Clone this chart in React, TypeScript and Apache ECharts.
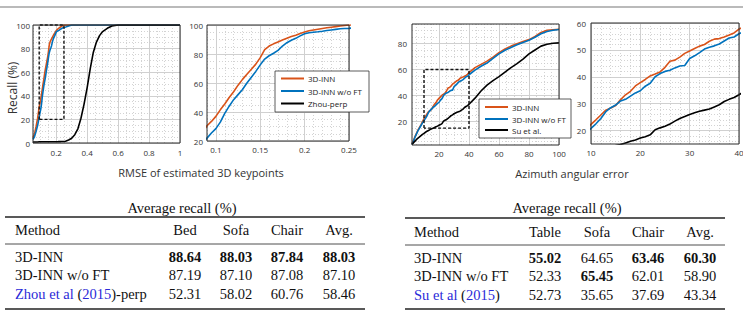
import React, { useEffect, useRef } from 'react';
import * as echarts from 'echarts';

// ---------- RMSE recall curves (left pair of plots) ----------
const rmseX = [0.05, 0.06, 0.07, 0.08, 0.09, 0.095, 0.1, 0.105, 0.11, 0.115, 0.12, 0.125, 0.13, 0.135, 0.14, 0.145, 0.15, 0.155, 0.16, 0.165, 0.17, 0.175, 0.18, 0.185, 0.19, 0.195, 0.2, 0.205, 0.21, 0.215, 0.22, 0.225, 0.23, 0.235, 0.24, 0.245, 0.25, 0.26, 0.28, 0.3, 0.32, 0.34, 0.36, 0.38, 0.4, 0.42, 0.44, 0.46, 0.48, 0.5, 0.53, 0.56, 0.6, 0.7, 0.8, 0.9, 1.0];
const inn3dRmse = [4.5, 8, 14, 21, 30.5, 33.5, 37, 41.5, 45.5, 50, 54, 58.5, 62.5, 66, 69.5, 73, 77.5, 83, 85.5, 87, 88.3, 89.6, 90.8, 92, 93, 94.2, 95.2, 96, 96.6, 97.1, 97.6, 98.1, 98.5, 98.9, 99.3, 99.7, 100, 100, 100, 100, 100, 100, 100, 100, 100, 100, 100, 100, 100, 100, 100, 100, 100, 100, 100, 100, 100];
const innNoFtRmse = [3, 5.5, 10, 15, 22, 25.5, 28.5, 33, 39, 44, 48.5, 52, 55.5, 60, 64, 68, 72.5, 76.5, 78.8, 80.5, 82.5, 85.5, 87.8, 89.5, 90.8, 92.5, 94, 94.7, 95, 95.3, 95.7, 96.2, 96.6, 97, 97.4, 97.6, 97.7, 98.2, 99.2, 100, 100, 100, 100, 100, 100, 100, 100, 100, 100, 100, 100, 100, 100, 100, 100, 100, 100];
const zhouPerpRmse = [0.8, 0.8, 0.9, 0.9, 1, 1, 1, 1, 1, 1, 1, 1, 1, 1, 1, 1, 1, 1, 1, 1, 1, 1, 1, 1, 1.1, 1.1, 1.1, 1.1, 1.1, 1.2, 1.2, 1.2, 1.2, 1.3, 1.3, 1.3, 1.3, 1.5, 2.5, 4, 7, 12, 21, 33, 47, 63, 77, 85.5, 91, 94.4, 97.2, 99.2, 100, 100, 100, 100, 100];

// ---------- Azimuth recall curves (right pair of plots) ----------
const azimuthX = [2, 3, 4, 5, 6, 7, 8, 9, 10, 11, 12, 13, 14, 15, 16, 17, 18, 19, 20, 21, 22, 23, 24, 25, 26, 27, 28, 29, 30, 31, 32, 33, 34, 35, 36, 37, 38, 39, 40, 44, 48, 52, 56, 60, 64, 68, 72, 76, 80, 84, 88, 92, 96, 100];
const inn3dAz = [3, 5.5, 8.5, 11, 13.5, 15.5, 17.5, 20, 22.3, 24, 25.8, 27.6, 28.4, 29.3, 31.5, 33.3, 34.6, 36.6, 37.8, 39, 40.3, 41, 41.8, 43.5, 45.8, 46.2, 47.3, 48.7, 49.6, 50.5, 51.4, 52, 53.2, 54, 54.2, 54.8, 55.5, 56.3, 57.7, 61.5, 64, 66.5, 69.5, 73, 75.8, 78, 79.8, 81.5, 83, 85.5, 88.5, 90.2, 90.6, 91];
const innNoFtAz = [2.5, 5, 8, 10.5, 13, 15, 17, 19, 20.8, 22.5, 24.5, 27, 28.5, 29.5, 31, 31.6, 32.8, 34, 34.8, 36.5, 37.6, 40, 41.2, 42, 42.4, 43.3, 44, 44.2, 46.8, 47.8, 49, 50.3, 51, 51.5, 52.2, 53.3, 54.4, 54.8, 56, 59.5, 62.5, 65, 68.5, 72, 74.8, 77, 79, 80.8, 82.5, 84.8, 87.5, 89.3, 90.2, 90.8];
const suAz = [2.5, 3.8, 5, 6.2, 7.3, 8.2, 9.2, 10.2, 11, 11.8, 12.6, 13.2, 13.8, 14.4, 14.8, 15.4, 16, 16.5, 17.2, 17.7, 18.4, 20.3, 21, 21.6, 22.4, 23.5, 24.5, 25.2, 26, 26.6, 27.2, 27.6, 28, 28.8, 29.6, 30.8, 31.6, 32.3, 33.3, 38, 43.5, 48, 51.5, 54.5, 58, 61.5, 64.5, 68, 72, 75, 78, 79.5, 80.2, 80.5];

const namesRmse = ['3D-INN', '3D-INN w/o FT', 'Zhou-perp'];
const namesAz = ['3D-INN', '3D-INN w/o FT', 'Su et al.'];
const seriesColors = ['#D95319', '#0072BD', '#000000'];

// axis extents (the zoomed plots define the dashed boxes)
const rmseFullX = [0.05, 1];
const rmseFullY = [0, 100];
const rmseZoomX = [0.09, 0.25];
const rmseZoomY = [20, 100];
const azFullX = [2, 100];
const azFullY = [2, 95];
const azZoomX = [10, 40];
const azZoomY = [15, 60];

// ---------- tables ----------
const leftTableCols = ['Bed', 'Sofa', 'Chair', 'Avg.'];
const leftTableMethods = ['3D-INN', '3D-INN w/o FT', '{c|Zhou et al} ({c|2015})-perp'];
const leftTableVals = [
  [88.64, 88.03, 87.84, 88.03],
  [87.19, 87.1, 87.08, 87.1],
  [52.31, 58.02, 60.76, 58.46],
];
const rightTableCols = ['Table', 'Sofa', 'Chair', 'Avg.'];
const rightTableMethods = ['3D-INN', '3D-INN w/o FT', '{c|Su et al} ({c|2015})'];
const rightTableVals = [
  [55.02, 64.65, 63.46, 60.3],
  [52.33, 65.45, 62.01, 58.9],
  [52.73, 35.65, 37.69, 43.34],
];

const MAJOR = '#d0d0d0';
const MINOR = '#c8c8c8';
const NONE = 'rgba(0,0,0,0)';
const SANS = 'Open Sans';
const SERIF = 'Liberation Serif';

const isMul = (v: number, m: number) => Math.abs(v / m - Math.round(v / m)) < 1e-6;

function stepColors(ext: number[], step: number, major: number, minor: number, wantMinor: boolean) {
  const n = Math.round((ext[1] - ext[0]) / step);
  const out: string[] = [];
  for (let i = 0; i <= n; i++) {
    const v = ext[0] + i * step;
    const maj = isMul(v, major);
    const mnr = !maj && isMul(v, minor);
    out.push(wantMinor ? (mnr ? MINOR : NONE) : maj ? MAJOR : NONE);
  }
  return out;
}

// main axis: labels + solid major grid lines
function makeAxis(gridIndex: number, ext: number[], step: number, major: number, minor: number, margin: number) {
  return {
    type: 'value',
    gridIndex,
    min: ext[0],
    max: ext[1],
    interval: step,
    axisLine: { show: false },
    axisTick: { show: false },
    axisLabel: {
      show: true,
      margin,
      color: '#333',
      fontSize: 8,
      fontFamily: SANS,
      showMinLabel: true,
      showMaxLabel: true,
      formatter: (v: number) => (isMul(v, major) ? String(parseFloat(v.toFixed(3))) : ''),
    },
    splitLine: { show: true, lineStyle: { color: stepColors(ext, step, major, minor, false), width: 1 } },
  };
}

// companion axis (top / right): dotted minor grid lines only
function makeMinorAxis(gridIndex: number, ext: number[], step: number, major: number, minor: number, position: string) {
  return {
    type: 'value',
    gridIndex,
    position,
    min: ext[0],
    max: ext[1],
    interval: step,
    axisLine: { show: false },
    axisTick: { show: false },
    axisLabel: { show: false },
    splitLine: { show: true, lineStyle: { color: stepColors(ext, step, major, minor, true), width: 0.8, type: [1, 2] } },
  };
}

function lineSeries(name: string, xs: number[], ys: number[], color: string, idx: number) {
  return {
    type: 'line',
    name,
    xAxisIndex: idx,
    yAxisIndex: idx,
    data: xs.map((x, i) => [x, ys[i]]),
    showSymbol: false,
    symbol: 'none',
    lineStyle: { color, width: 1.6 },
    itemStyle: { color },
    clip: true,
    silent: true,
    z: 3,
  };
}

function boxSeries(xr: number[], yr: number[], idx: number) {
  return {
    type: 'line',
    xAxisIndex: idx,
    yAxisIndex: idx,
    data: [[xr[0], yr[0]], [xr[0], yr[1]], [xr[1], yr[1]], [xr[1], yr[0]], [xr[0], yr[0]]],
    showSymbol: false,
    symbol: 'none',
    lineStyle: { color: '#111', width: 1.4, type: [3, 2] },
    clip: false,
    silent: true,
    z: 4,
  };
}

function legendEls(x: number, y: number, w: number, h: number, names: string[], rowY: number[]) {
  const els: any[] = [
    { type: 'rect', z: 30, shape: { x, y, width: w, height: h }, style: { fill: '#ffffff', stroke: '#333', lineWidth: 0.8 } },
  ];
  names.forEach((n, i) => {
    els.push({
      type: 'line',
      z: 31,
      shape: { x1: x + 6, y1: rowY[i], x2: x + 29, y2: rowY[i] },
      style: { stroke: seriesColors[i], lineWidth: 2 },
    });
    els.push({
      type: 'text',
      z: 31,
      x: x + 33,
      y: rowY[i],
      style: { text: n, fontSize: 8, fontFamily: SANS, fill: '#222', verticalAlign: 'middle', align: 'left' },
    });
  });
  return els;
}

function table(
  title: string, titleX: number, x0: number, x1: number, ruleY: number[], headerY: number, methodX: number,
  cols: string[], colX: number[], methods: string[], vals: number[][], rowY: number[]
) {
  const els: any[] = [];
  const base = { fontSize: 14.5, fontFamily: SERIF, fill: '#111', verticalAlign: 'middle' };
  els.push({ type: 'text', x: titleX, y: 208, style: { ...base, text: title, align: 'center' } });
  ruleY.forEach((ry, i) => {
    els.push({ type: 'line', shape: { x1: x0, y1: ry, x2: x1, y2: ry }, style: { stroke: '#222', lineWidth: i === 1 ? 0.8 : 1.3 } });
  });
  els.push({ type: 'text', x: methodX, y: headerY, style: { ...base, text: 'Method', align: 'left' } });
  cols.forEach((c, j) => {
    els.push({ type: 'text', x: colX[j], y: headerY, style: { ...base, text: c, align: 'center' } });
  });
  const colMax = cols.map((_, j) => Math.max(...vals.map((r) => r[j])));
  methods.forEach((m, i) => {
    els.push({
      type: 'text', x: methodX, y: rowY[i],
      style: { ...base, text: m, align: 'left', rich: { c: { fill: '#2a2ad8', fontSize: 14.5, fontFamily: SERIF } } },
    });
    vals[i].forEach((v, j) => {
      els.push({
        type: 'text', x: colX[j], y: rowY[i],
        style: { ...base, text: v.toFixed(2), align: 'center', fontWeight: v === colMax[j] ? 'bold' : 'normal' },
      });
    });
  });
  return els;
}

export default function App() {
  const ref = useRef<HTMLDivElement>(null);
  useEffect(() => {
    if (!ref.current) return;
    const chart = echarts.init(ref.current, null, { renderer: 'svg' });
    const gridBase = { show: true, borderColor: '#2a2a2a', borderWidth: 1, backgroundColor: 'rgba(0,0,0,0)', z: 10, containLabel: false, outerBoundsMode: 'none' };
    const option: any = {
      animation: false,
      backgroundColor: '#fff',
      textStyle: { fontFamily: SANS },
      grid: [
        { ...gridBase, left: 33, top: 25, width: 147, height: 118 },
        { ...gridBase, left: 207, top: 25, width: 142, height: 116 },
        { ...gridBase, left: 412, top: 24, width: 147, height: 121 },
        { ...gridBase, left: 591, top: 23, width: 148, height: 121 },
      ],
      xAxis: [
        makeAxis(0, rmseFullX, 0.05, 0.2, 0.05, 5),
        makeAxis(1, rmseZoomX, 0.01, 0.05, 0.01, 4),
        makeAxis(2, azFullX, 1, 20, 5, 4),
        makeAxis(3, azZoomX, 2, 10, 2, 4),
        makeMinorAxis(0, rmseFullX, 0.05, 0.2, 0.05, 'top'),
        makeMinorAxis(1, rmseZoomX, 0.01, 0.05, 0.01, 'top'),
        makeMinorAxis(2, azFullX, 1, 20, 5, 'top'),
        makeMinorAxis(3, azZoomX, 2, 10, 2, 'top'),
      ],
      yAxis: [
        makeAxis(0, rmseFullY, 5, 20, 5, 3),
        makeAxis(1, rmseZoomY, 5, 20, 5, 4),
        makeAxis(2, azFullY, 1, 20, 5, 5),
        makeAxis(3, azZoomY, 1, 10, 2, 5),
        makeMinorAxis(0, rmseFullY, 5, 20, 5, 'right'),
        makeMinorAxis(1, rmseZoomY, 5, 20, 5, 'right'),
        makeMinorAxis(2, azFullY, 1, 20, 5, 'right'),
        makeMinorAxis(3, azZoomY, 1, 10, 2, 'right'),
      ],
      series: [
        lineSeries(namesRmse[0], rmseX, inn3dRmse, seriesColors[0], 0),
        lineSeries(namesRmse[1], rmseX, innNoFtRmse, seriesColors[1], 0),
        lineSeries(namesRmse[2], rmseX, zhouPerpRmse, seriesColors[2], 0),
        boxSeries(rmseZoomX, rmseZoomY, 0),
        lineSeries(namesRmse[0], rmseX, inn3dRmse, seriesColors[0], 1),
        lineSeries(namesRmse[1], rmseX, innNoFtRmse, seriesColors[1], 1),
        lineSeries(namesRmse[2], rmseX, zhouPerpRmse, seriesColors[2], 1),
        lineSeries(namesAz[0], azimuthX, inn3dAz, seriesColors[0], 2),
        lineSeries(namesAz[1], azimuthX, innNoFtAz, seriesColors[1], 2),
        lineSeries(namesAz[2], azimuthX, suAz, seriesColors[2], 2),
        boxSeries(azZoomX, azZoomY, 2),
        lineSeries(namesAz[0], azimuthX, inn3dAz, seriesColors[0], 3),
        lineSeries(namesAz[1], azimuthX, innNoFtAz, seriesColors[1], 3),
        lineSeries(namesAz[2], azimuthX, suAz, seriesColors[2], 3),
      ],
      graphic: [
        { type: 'line', shape: { x1: 0, y1: 7, x2: 743, y2: 7 }, style: { stroke: '#777', lineWidth: 1.2 } },
        {
          type: 'text', x: 12.5, y: 88, rotation: Math.PI / 2,
          style: { text: 'Recall (%)', fontSize: 12, fontFamily: SANS, fill: '#333', align: 'center', verticalAlign: 'middle' },
        },
        {
          type: 'text', x: 201, y: 172,
          style: { text: 'RMSE of estimated 3D keypoints', fontSize: 11, fontFamily: SANS, fill: '#333', align: 'center', verticalAlign: 'middle' },
        },
        {
          type: 'text', x: 572, y: 173,
          style: { text: 'Azimuth angular error', fontSize: 11, fontFamily: SANS, fill: '#333', align: 'center', verticalAlign: 'middle' },
        },
        ...legendEls(275, 71, 94, 41, namesRmse, [78.5, 91, 103.5]),
        ...legendEls(479, 99, 92, 39, namesAz, [107, 119, 130]),
        ...table('Average recall (%)', 182, 5, 365, [217, 244, 309], 230, 15, leftTableCols, [185, 236, 287, 339], leftTableMethods, leftTableVals, [257, 275, 294]),
        ...table('Average recall (%)', 567, 405, 725, [218, 245, 309], 232, 414, rightTableCols, [545, 597, 648, 700], rightTableMethods, rightTableVals, [258, 276, 295]),
      ],
    };
    chart.setOption(option);
    return () => chart.dispose();
  }, []);
  return <div ref={ref} style={{ position: 'fixed', left: 0, top: 0, width: 743, height: 314 }} />;
}
